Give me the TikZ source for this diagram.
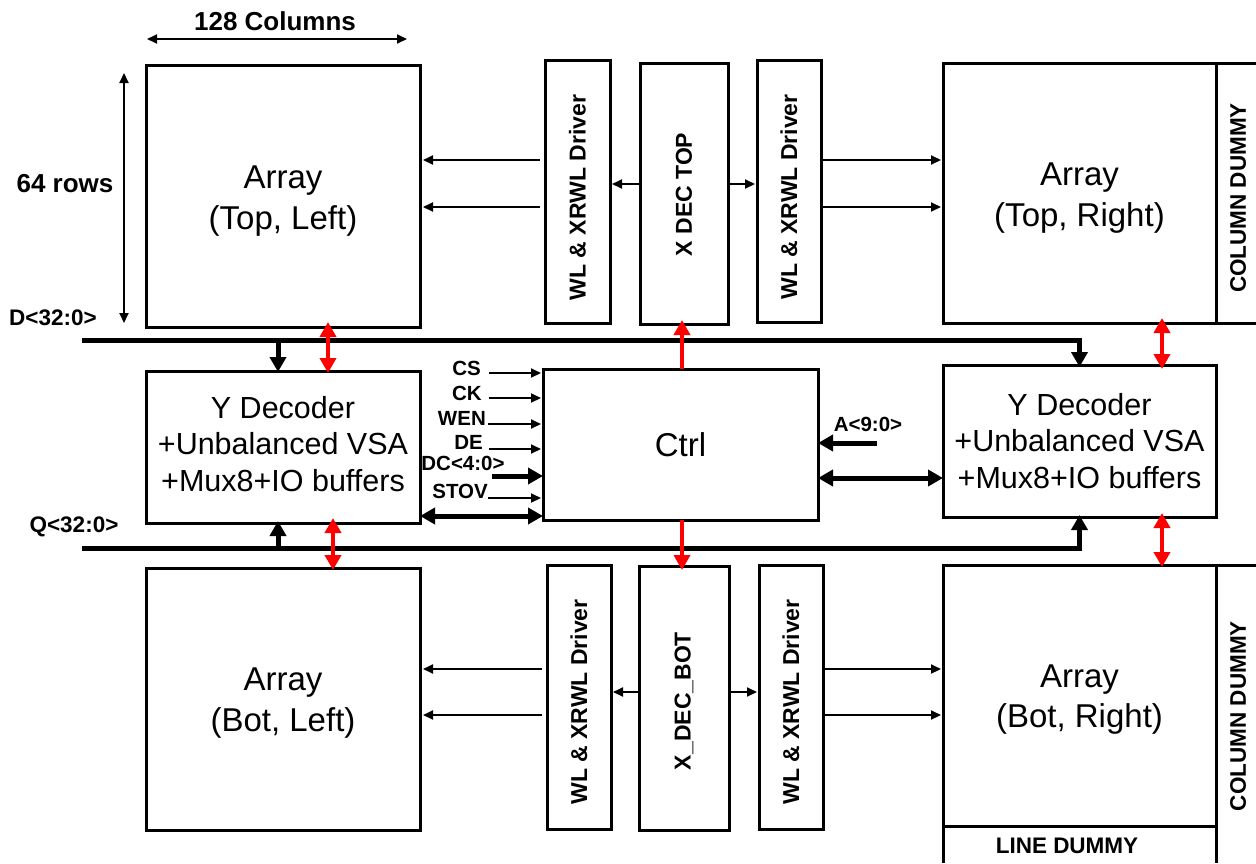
\documentclass[tikz,border=0pt]{standalone}
\usepackage{fontspec}
\setmainfont{Liberation Sans}
\usetikzlibrary{arrows.meta}
\begin{document}
\begin{tikzpicture}[x=1pt,y=-1pt,
  box/.style={draw, line width=3pt, anchor=north west, inner sep=0pt, outer sep=0pt},
  big/.style={font=\fontsize{33}{40.5}\selectfont, align=center, inner sep=0pt},
  ydec/.style={font=\fontsize{30.5}{36.5}\selectfont, align=center, inner sep=0pt},
  lbl/.style={font=\fontsize{20.5}{24}\selectfont\bfseries, inner sep=0pt},
  mlbl/.style={font=\fontsize{22.5}{26}\selectfont\bfseries, inner sep=0pt},
  hlbl/.style={font=\fontsize{26}{30}\selectfont\bfseries, inner sep=0pt},
  vlbl/.style={font=\fontsize{23}{26}\selectfont\bfseries, rotate=90, inner sep=0pt},
  cdlbl/.style={font=\fontsize{22.5}{26}\selectfont\bfseries, rotate=90, inner sep=0pt},
  xlbl/.style={font=\fontsize{23}{26}\selectfont\bfseries, rotate=90, inner sep=0pt},
  tarr/.style={line width=2pt, -{Triangle[length=10pt,width=9pt]}},
  tdarr/.style={line width=2pt, {Triangle[length=10pt,width=9pt]}-{Triangle[length=10pt,width=9pt]}},
  karr/.style={line width=5pt, -{Triangle[length=15pt,width=16pt]}},
  kdarr/.style={line width=5pt, {Triangle[length=15pt,width=16pt]}-{Triangle[length=15pt,width=16pt]}},
  rarr/.style={red, line width=4.5pt, -{Triangle[length=15pt,width=16pt]}},
  rdarr/.style={red, line width=4.5pt, {Triangle[length=15pt,width=16pt]}-{Triangle[length=15pt,width=16pt]}},
  frame/.style={line width=3pt},
]
\useasboundingbox (0,0) rectangle (1256,863);

% ---------- main blocks ----------
\node[box, minimum width=274pt, minimum height=262pt] (atl) at (146,65) {};
\node[box, minimum width=274pt, minimum height=152pt] (ydl) at (146,371) {};
\node[box, minimum width=274pt, minimum height=262pt] (abl) at (146,568) {};

\node[box, minimum width=65pt, minimum height=263pt] (wltl) at (545,60) {};
\node[box, minimum width=88pt, minimum height=261pt] (xdt) at (640,63) {};
\node[box, minimum width=64pt, minimum height=262pt] (wltr) at (757,60) {};

\node[box, minimum width=275pt, minimum height=151pt] (ctrl) at (543,369) {};

\node[box, minimum width=64pt, minimum height=264pt] (wlbl) at (547,565) {};
\node[box, minimum width=90pt, minimum height=264pt] (xdb) at (639,566) {};
\node[box, minimum width=64pt, minimum height=264pt] (wlbr) at (759,565) {};

\node[box, minimum width=273pt, minimum height=260pt] (atr) at (943,63) {};
\node[box, minimum width=273pt, minimum height=152pt] (ydr) at (943,365) {};
\node[box, minimum width=273pt, minimum height=261pt] (abr) at (943,565) {};

% block texts
\node[big] (atlt) at ([yshift=-5pt]atl.center) {Array\\(Top, Left)};
\node[big] (ablt) at ([yshift=-4pt]abl.center) {Array\\(Bot, Left)};
\node[big] (atrt) at ([yshift=-5pt]atr.center) {Array\\(Top, Right)};
\node[big] (abrt) at ([yshift=-4pt]abr.center) {Array\\(Bot, Right)};
\node[ydec] (ydlt) at ([yshift=3pt]ydl.center) {Y Decoder\\+Unbalanced VSA\\+Mux8+IO buffers};
\node[ydec] (ydrt) at (ydr.center) {Y Decoder\\+Unbalanced VSA\\+Mux8+IO buffers};
\node[big] (ctrlt) at (ctrl.center) {Ctrl};

% rotated labels
\node[vlbl] (wltlt) at ([yshift=-6pt]wltl.center) {WL \& XRWL Driver};
\node[xlbl] (xdtt) at ([yshift=-1pt]xdt.center) {X DEC TOP};
\node[vlbl] (wltrt) at ([yshift=-6pt]wltr.center) {WL \& XRWL Driver};
\node[vlbl] (wlblt) at ([yshift=-5pt]wlbl.center) {WL \& XRWL Driver};
\node[xlbl] (xdbt) at ([yshift=-3pt]xdb.center) {X\_DEC\_BOT};
\node[vlbl] (wlbrt) at ([yshift=-5pt]wlbr.center) {WL \& XRWL Driver};

% dummies
\draw[frame] (atr.north east) -- ++(40,0);
\draw[frame] (atr.south east) -- ++(40,0);
\node[cdlbl] (cdt) at (1238,198) {COLUMN DUMMY};
\draw[frame] (abr.north east) -- ++(40,0);
\draw[frame] (abr.south east) -- ++(0,37);
\draw[frame] (abr.south west) -- ++(0,37);
\node[cdlbl] (cdb) at (1238,716) {COLUMN DUMMY};
\node[mlbl] (ld) at (1067,846) {LINE DUMMY};

% ---------- dimension labels ----------
\node[hlbl] (cols) at (275,21) {128 Columns};
\coordinate (c1) at (147,39);
\coordinate (c2) at (407,39);
\draw[tdarr] (c1) -- (c2);
\node[hlbl] (rows) at (65,184) {64 rows};
\coordinate (r1) at (124,73);
\coordinate (r2) at (124,323);
\draw[tdarr] (r1) -- (r2);

% ---------- driver arrows ----------
\draw[tarr, shorten <=5pt, shorten >=3pt] (wltl.west |- 0,160) -- (atl.east |- 0,160);
\draw[tarr, shorten <=5pt, shorten >=3pt] (wltl.west |- 0,207) -- (atl.east |- 0,207);
\draw[tarr, shorten >=2pt] (xdt.west |- 0,184) -- (wltl.east |- 0,184);
\draw[tarr, shorten >=2pt] (xdt.east |- 0,184) -- (wltr.west |- 0,184);
\draw[tarr, shorten <=2pt, shorten >=2pt] (wltr.east |- 0,160) -- (atr.west |- 0,160);
\draw[tarr, shorten <=2pt, shorten >=2pt] (wltr.east |- 0,207) -- (atr.west |- 0,207);

\draw[tarr, shorten <=5pt, shorten >=3pt] (wlbl.west |- 0,669) -- (abl.east |- 0,669);
\draw[tarr, shorten <=5pt, shorten >=3pt] (wlbl.west |- 0,715) -- (abl.east |- 0,715);
\draw[tarr, shorten >=2pt] (xdb.west |- 0,692) -- (wlbl.east |- 0,692);
\draw[tarr, shorten >=2pt] (xdb.east |- 0,692) -- (wlbr.west |- 0,692);
\draw[tarr, shorten <=2pt, shorten >=2pt] (wlbr.east |- 0,669) -- (abr.west |- 0,669);
\draw[tarr, shorten <=2pt, shorten >=2pt] (wlbr.east |- 0,715) -- (abr.west |- 0,715);

% ---------- buses ----------
\node[mlbl] (dlbl) at (53,318) {D<32:0>};
\node[mlbl] (qlbl) at (74,527) {Q<32:0>};
\coordinate (dbus) at (82,340);
\coordinate (qbus) at (82,548);
\coordinate (dtap) at (278,340);
\coordinate (qtap) at (278,548);
\draw[karr, shorten >=-2pt] (dbus) -| (ydr.north);
\draw[karr, shorten >=-2pt] (qbus) -| (ydr.south);
\draw[karr, shorten >=-1pt] (dtap) -- (dtap |- ydl.north);
\draw[karr, shorten >=-2pt] (qtap) -- (qtap |- ydl.south);

% ---------- red arrows ----------
\draw[rdarr, shorten <=-5pt, shorten >=-2pt] (atl.south -| 328,0) -- (ydl.north -| 328,0);
\draw[rdarr, shorten <=-5pt, shorten >=-2pt] (ydl.south -| 333,0) -- (abl.north -| 333,0);
\draw[rdarr, shorten <=-5pt, shorten >=-4pt] (atr.south -| 1162,0) -- (ydr.north -| 1162,0);
\draw[rdarr, shorten <=-4pt, shorten >=-2pt] (ydr.south -| 1162,0) -- (abr.north -| 1162,0);
\draw[rarr, shorten >=-4pt] (ctrl.north -| 682,0) -- (xdt.south -| 682,0);
\draw[rarr, shorten >=-4pt] (ctrl.south -| 682,0) -- (xdb.north -| 682,0);

% ---------- control inputs ----------
\node[lbl, anchor=east] (cs) at (481,368) {CS};
\node[lbl, anchor=east] (ck) at (482,393) {CK};
\node[lbl, anchor=east] (wen) at (486,418) {WEN};
\node[lbl, anchor=east] (de) at (483,442) {DE};
\node[lbl] (dc) at (463,463) {DC<4:0>};
\node[lbl, anchor=east] (stov) at (488,491) {STOV};
\draw[tarr, shorten <=8pt, shorten >=2pt] (cs.east |- 0,373) -- (ctrl.west |- 0,373);
\draw[tarr, shorten <=7pt, shorten >=2pt] (ck.east |- 0,398) -- (ctrl.west |- 0,398);
\draw[tarr, shorten <=2pt, shorten >=2pt] (wen.east |- 0,424) -- (ctrl.west |- 0,424);
\draw[tarr, shorten <=6pt, shorten >=2pt] (de.east |- 0,449) -- (ctrl.west |- 0,449);
\coordinate (dcin) at (492,476);
\draw[karr] (dcin) -- (ctrl.west |- dcin);
\draw[tarr, shorten >=2pt] (stov.east |- 0,498) -- (ctrl.west |- 0,498);
\draw[kdarr] (ydl.east |- 0,516) -- (ctrl.west |- 0,516);

\node[lbl] (alab) at (868,424) {A<9:0>};
\coordinate (ain) at (877,443);
\draw[karr] (ain) -- (ctrl.east |- ain);
\draw[kdarr] (ctrl.east |- 0,478) -- (ydr.west |- 0,478);
\end{tikzpicture}
\end{document}
